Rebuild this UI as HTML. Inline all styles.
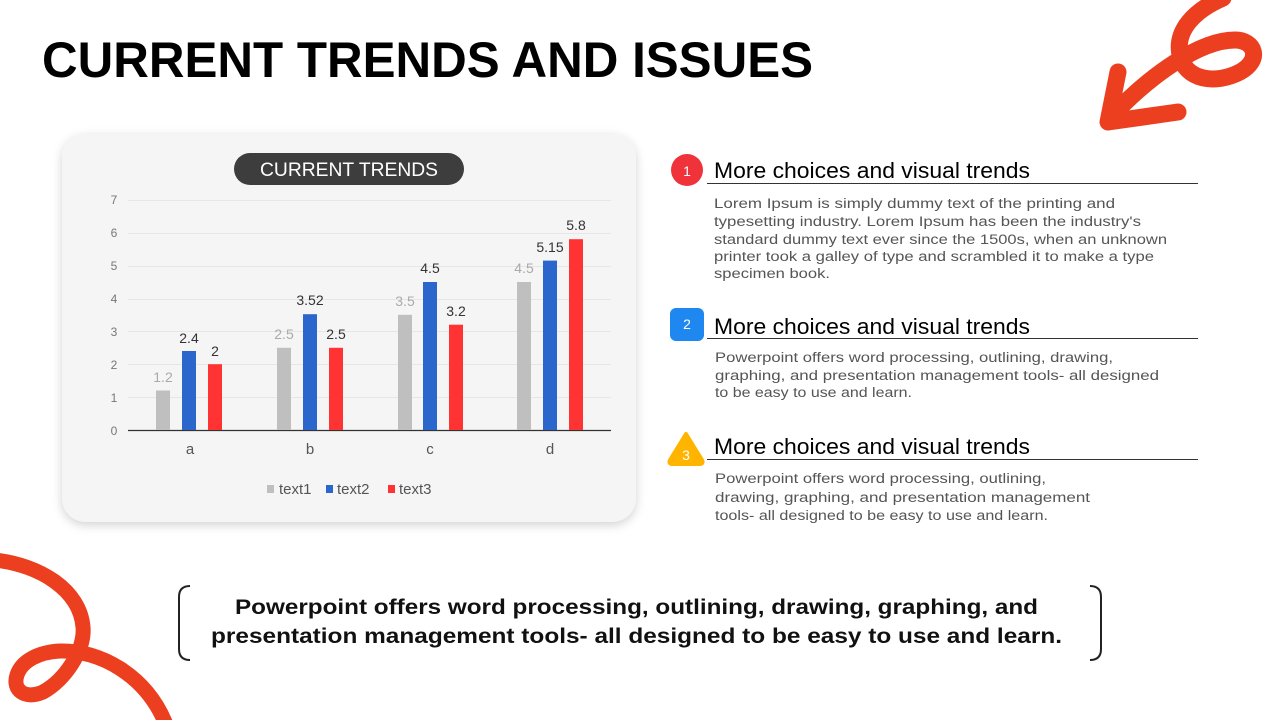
<!DOCTYPE html>
<html><head><meta charset="utf-8"><style>
html,body{margin:0;padding:0;background:#fff;}
svg{display:block}
text{font-family:"Liberation Sans",sans-serif}
</style></head><body>
<svg width="1280" height="720" viewBox="0 0 1280 720" xmlns="http://www.w3.org/2000/svg">
<defs>
<filter id="sh" x="-10%" y="-10%" width="120%" height="120%"><feDropShadow dx="0" dy="3" stdDeviation="5" flood-color="#000" flood-opacity="0.18"/></filter>
</defs>
<rect width="1280" height="720" fill="#fff"/>
<path d="M1223,-2 C1195,10 1175,30 1180,55 C1185,80 1215,85 1240,72 C1262,60 1255,40 1235,40 C1200,40 1150,75 1110,118" fill="none" stroke="#ec3f1f" stroke-width="17" stroke-linecap="round"/>
<path d="M1118,72 L1108,122 L1178,112" fill="none" stroke="#ec3f1f" stroke-width="17" stroke-linecap="round" stroke-linejoin="round"/>
<path d="M-5,560 C40,565 80,590 83,627 C85,650 65,680 43,692 C25,700 12,690 17,675 C22,660 40,652 60,651 C100,650 145,675 165,722" fill="none" stroke="#ec3f1f" stroke-width="15" stroke-linecap="round"/>
<text x="42" y="77" font-size="50" font-weight="bold" fill="#000" textLength="771" lengthAdjust="spacingAndGlyphs">CURRENT TRENDS AND ISSUES</text>
<rect x="62" y="134" width="574" height="388" rx="24" fill="#f5f5f5" filter="url(#sh)"/>
<rect x="234" y="153" width="230" height="32" rx="16" fill="#3d3d3d"/>
<text x="349" y="176" font-size="19" fill="#fff" text-anchor="middle" textLength="178" lengthAdjust="spacingAndGlyphs">CURRENT TRENDS</text>
<g stroke="#e6e6e6" stroke-width="1">
<line x1="128" x2="611" y1="200.5" y2="200.5"/><line x1="128" x2="611" y1="233.5" y2="233.5"/>
<line x1="128" x2="611" y1="266.5" y2="266.5"/><line x1="128" x2="611" y1="299.5" y2="299.5"/>
<line x1="128" x2="611" y1="331.5" y2="331.5"/><line x1="128" x2="611" y1="364.5" y2="364.5"/>
<line x1="128" x2="611" y1="397.5" y2="397.5"/>
</g>
<line x1="128" x2="611" y1="430.5" y2="430.5" stroke="#333" stroke-width="1.3"/>
<g font-size="12" fill="#777" text-anchor="middle">
<text x="114" y="204">7</text><text x="114" y="237">6</text><text x="114" y="270">5</text><text x="114" y="303">4</text>
<text x="114" y="336">3</text><text x="114" y="369">2</text><text x="114" y="402">1</text><text x="114" y="435">0</text>
</g>
<g>
<rect x="156" y="390.5" width="14" height="39.5" fill="#bfbfbf"/>
<rect x="182" y="351" width="14" height="79" fill="#2a66cc"/>
<rect x="208" y="364.2" width="14" height="65.8" fill="#ff3333"/>
<rect x="277" y="347.8" width="14" height="82.2" fill="#bfbfbf"/>
<rect x="303" y="314.2" width="14" height="115.8" fill="#2a66cc"/>
<rect x="329" y="347.8" width="14" height="82.2" fill="#ff3333"/>
<rect x="398" y="314.8" width="14" height="115.2" fill="#bfbfbf"/>
<rect x="423" y="282" width="14" height="148" fill="#2a66cc"/>
<rect x="449" y="324.7" width="14" height="105.3" fill="#ff3333"/>
<rect x="517" y="282" width="14" height="148" fill="#bfbfbf"/>
<rect x="543" y="260.6" width="14" height="169.4" fill="#2a66cc"/>
<rect x="569" y="239.2" width="14" height="190.8" fill="#ff3333"/>
</g>
<g font-size="14" text-anchor="middle">
<text x="163" y="382" fill="#aaa">1.2</text><text x="189" y="343" fill="#333">2.4</text><text x="215" y="356" fill="#333">2</text>
<text x="284" y="339" fill="#aaa">2.5</text><text x="310" y="305" fill="#333">3.52</text><text x="336" y="339" fill="#333">2.5</text>
<text x="405" y="306" fill="#aaa">3.5</text><text x="430" y="273" fill="#333">4.5</text><text x="456" y="316" fill="#333">3.2</text>
<text x="524" y="273" fill="#aaa">4.5</text><text x="550" y="252" fill="#333">5.15</text><text x="576" y="230" fill="#333">5.8</text>
</g>
<g font-size="15" fill="#555" text-anchor="middle">
<text x="190" y="454">a</text><text x="310" y="454">b</text><text x="430" y="454">c</text><text x="550" y="454">d</text>
</g>
<g font-size="15" fill="#555">
<rect x="267" y="485" width="7" height="8" fill="#bfbfbf"/><text x="279" y="494">text1</text>
<rect x="326" y="485" width="7" height="8" fill="#2a66cc"/><text x="337" y="494">text2</text>
<rect x="388" y="485" width="7" height="8" fill="#ff3333"/><text x="399" y="494">text3</text>
</g>
<circle cx="687" cy="170" r="16" fill="#f0333a"/>
<text x="687" y="176" font-size="14" fill="#fff" text-anchor="middle">1</text>
<text x="714" y="178" font-size="22" fill="#000" textLength="316" lengthAdjust="spacingAndGlyphs">More choices and visual trends</text>
<line x1="707" x2="1198" y1="183.5" y2="183.5" stroke="#333" stroke-width="1"/>
<g font-size="13.5" fill="#555">
<text x="714" y="208" textLength="401" lengthAdjust="spacingAndGlyphs">Lorem Ipsum is simply dummy text of the printing and</text>
<text x="714" y="226" textLength="427" lengthAdjust="spacingAndGlyphs">typesetting industry. Lorem Ipsum has been the industry's</text>
<text x="714" y="244" textLength="453" lengthAdjust="spacingAndGlyphs">standard dummy text ever since the 1500s, when an unknown</text>
<text x="714" y="261" textLength="440" lengthAdjust="spacingAndGlyphs">printer took a galley of type and scrambled it to make a type</text>
<text x="714" y="278" textLength="116" lengthAdjust="spacingAndGlyphs">specimen book.</text>
</g>
<rect x="670" y="308" width="34" height="33" rx="6" fill="#1e88f0"/>
<text x="687" y="329" font-size="14" fill="#fff" text-anchor="middle">2</text>
<text x="714" y="334" font-size="22" fill="#000" textLength="316" lengthAdjust="spacingAndGlyphs">More choices and visual trends</text>
<line x1="707" x2="1198" y1="338.5" y2="338.5" stroke="#333" stroke-width="1"/>
<g font-size="13.5" fill="#555">
<text x="715" y="362" textLength="398" lengthAdjust="spacingAndGlyphs">Powerpoint offers word processing, outlining, drawing,</text>
<text x="715" y="380" textLength="444" lengthAdjust="spacingAndGlyphs">graphing, and presentation management tools- all designed</text>
<text x="715" y="397" textLength="197" lengthAdjust="spacingAndGlyphs">to be easy to use and learn.</text>
</g>
<path d="M686,434 L702,460 Q704,464 699,464 L673,464 Q668,464 670,460 Z" fill="#ffb400" stroke="#ffb400" stroke-width="4" stroke-linejoin="round"/>
<text x="686" y="460" font-size="14" fill="#fff" text-anchor="middle">3</text>
<text x="714" y="454" font-size="22" fill="#000" textLength="316" lengthAdjust="spacingAndGlyphs">More choices and visual trends</text>
<line x1="707" x2="1198" y1="459.5" y2="459.5" stroke="#333" stroke-width="1"/>
<g font-size="13.5" fill="#555">
<text x="715" y="483" textLength="331" lengthAdjust="spacingAndGlyphs">Powerpoint offers word processing, outlining,</text>
<text x="715" y="502" textLength="375" lengthAdjust="spacingAndGlyphs">drawing, graphing, and presentation management</text>
<text x="715" y="520" textLength="333" lengthAdjust="spacingAndGlyphs">tools- all designed to be easy to use and learn.</text>
</g>
<path d="M190,586 Q179,586 179,597 L179,649 Q179,660 190,660" fill="none" stroke="#222" stroke-width="2"/>
<path d="M1090,586 Q1101,586 1101,597 L1101,649 Q1101,660 1090,660" fill="none" stroke="#222" stroke-width="2"/>
<text x="235" y="614" font-size="21" font-weight="bold" fill="#111" textLength="803" lengthAdjust="spacingAndGlyphs">Powerpoint offers word processing, outlining, drawing, graphing, and</text>
<text x="211" y="643" font-size="21" font-weight="bold" fill="#111" textLength="851" lengthAdjust="spacingAndGlyphs">presentation management tools- all designed to be easy to use and learn.</text>
</svg>
</body></html>
